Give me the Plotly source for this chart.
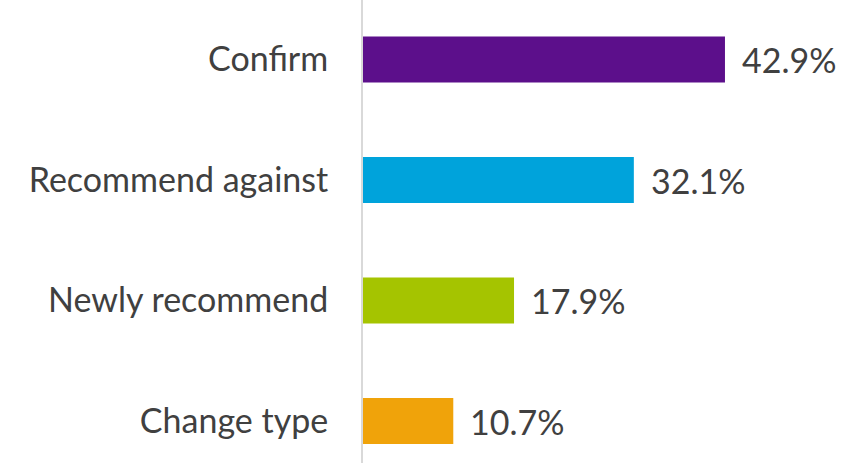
import plotly.graph_objects as go

categories = ["Change type", "Newly recommend", "Recommend against", "Confirm"]
values = [10.7, 17.9, 32.1, 42.9]
colors = ["#F0A30A", "#A5C400", "#00A3DB", "#5C0F8B"]
labels = ["10.7%", "17.9%", "32.1%", "42.9%"]

FONT = "Lato"
TXT = "#404040"

fig = go.Figure(go.Bar(
    x=values, y=categories, orientation="h",
    marker=dict(color=colors, line=dict(width=0)),
    width=0.382, hoverinfo="skip",
))

for c, v, t in zip(categories, values, labels):
    fig.add_annotation(x=v, y=c, text=t, showarrow=False, xanchor="left",
                       xshift=15, font=dict(family=FONT, size=34, color=TXT))

fig.update_layout(
    width=849, height=463,
    margin=dict(l=363, r=0, t=0, b=0, autoexpand=False),
    paper_bgcolor="white", plot_bgcolor="white",
    showlegend=False,
    xaxis=dict(range=[0, 57.6], visible=False, fixedrange=True, automargin=False),
    yaxis=dict(range=[-0.348, 3.494], categoryorder="array", categoryarray=categories,
               showline=True, linecolor="#D9D9D9", linewidth=2, ticks="",
               showgrid=False, ticklabelstandoff=26, automargin=False,
               tickfont=dict(family=FONT, size=34, color=TXT)),
)

fig.write_html("out.html", config={"displayModeBar": False},
               post_script="document.body.style.margin='0';document.body.style.overflow='hidden';")
